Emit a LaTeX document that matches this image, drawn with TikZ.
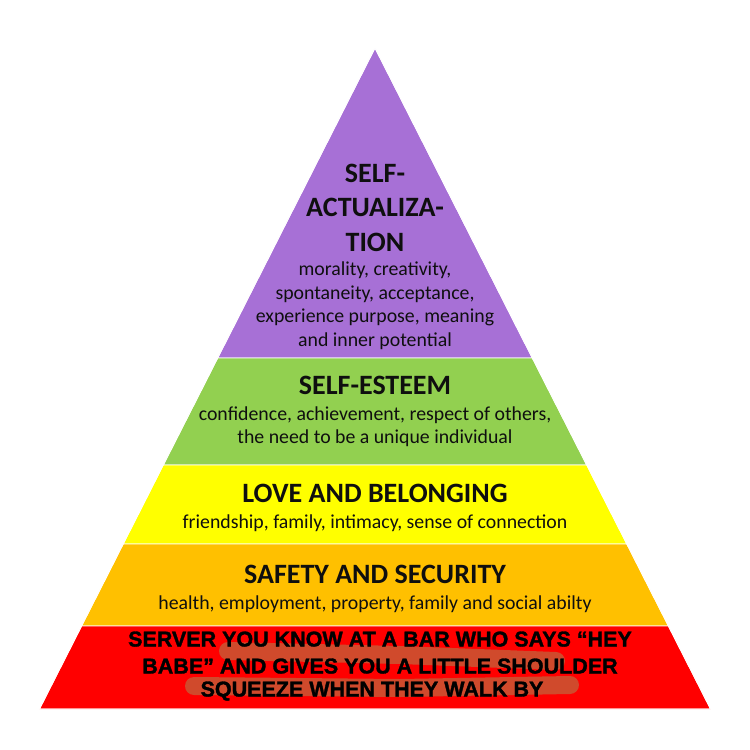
\documentclass[tikz,border=0pt]{standalone}
\usepackage{fontspec}
\setmainfont{Carlito}
\newfontfamily\redfont{Liberation Sans}[BoldFeatures={FakeBold=1.5}]
\definecolor{cpurple}{RGB}{167,112,214}
\definecolor{cgreen}{RGB}{146,208,80}
\definecolor{cyellow}{RGB}{255,255,0}
\definecolor{corange}{RGB}{255,192,0}
\definecolor{cred}{RGB}{255,0,0}
\definecolor{cscrib}{RGB}{208,74,44}
\definecolor{ctext}{RGB}{15,15,15}
\tikzset{
  band/.style={draw=white, line width=0.8pt},
  head/.style={anchor=base, inner sep=0pt, text=ctext, font=\fontsize{28}{28}\selectfont\bfseries},
  desc/.style={anchor=base, inner sep=0pt, text=ctext, font=\fontsize{19.8}{19.8}\selectfont},
  redtxt/.style={anchor=base, inner sep=0pt, text=black, font=\redfont\fontsize{21.5}{21.5}\selectfont\bfseries},
  scrib/.style={draw=cscrib, line cap=round, line join=round}
}
\begin{document}
\begin{tikzpicture}[x=1pt, y=-1pt]
\useasboundingbox (0,0) rectangle (750,750);
\fill[white] (0,0) rectangle (750,750);
% bands
\fill[band, fill=cpurple] (375,48) -- (532.3,358) -- (217.7,358) -- cycle;
\fill[band, fill=cgreen] (217.7,358) -- (532.3,358) -- (586.7,465) -- (163.3,465) -- cycle;
\fill[band, fill=cyellow] (163.3,465) -- (586.7,465) -- (626.8,544) -- (123.2,544) -- cycle;
\fill[band, fill=corange] (123.2,544) -- (626.8,544) -- (668.4,626) -- (81.6,626) -- cycle;
\fill[band, fill=cred] (81.6,626) -- (668.4,626) -- (710.5,709) -- (39.5,709) -- cycle;
\draw[band] (375,48) -- (532.3,358) -- (586.7,465) -- (626.8,544) -- (668.4,626) -- (710.5,709) -- (39.5,709) -- (81.6,626) -- (123.2,544) -- (163.3,465) -- (217.7,358) -- cycle;
% scribbles
\coordinate (sa1) at (228,651);
\coordinate (sa2) at (400,655);
\coordinate (sa3) at (556,661);
\coordinate (sb1) at (194,686);
\coordinate (sb2) at (400,688);
\coordinate (sb3) at (570,685);
\draw[scrib, line width=18pt] (sa1) -- (sa2) -- (sa3);
\draw[scrib, line width=18pt] (sb1) -- (sb2) -- (sb3);
% self-actualization
\node[head] (sa) at (375,182.5) {SELF-};
\node[head] (sb) at (375,216.5) {ACTUALIZA-};
\node[head] (sc) at (375,251) {TION};
\node[desc] (da) at (375,275) {morality, creativity,};
\node[desc] (db) at (375,299) {spontaneity, acceptance,};
\node[desc] (dc) at (375,322.5) {experience purpose, meaning};
\node[desc] (dd) at (375,346) {and inner potential};
% self-esteem
\node[head] (ea) at (375,394) {SELF-ESTEEM};
\node[desc] (eb) at (375,420) {confidence, achievement, respect of others,};
\node[desc] (ec) at (375,443.5) {the need to be a unique individual};
% love
\node[head] (la) at (375,502) {LOVE AND BELONGING};
\node[desc] (lb) at (375,528) {friendship, family, intimacy, sense of connection};
% safety
\node[head] (fa) at (375,583) {SAFETY AND SECURITY};
\node[desc] (fb) at (375,609) {health, employment, property, family and social abilty};
% red
\node[redtxt] (ra) at (380,646.5) {SERVER YOU KNOW AT A BAR WHO SAYS “HEY};
\node[redtxt] (rb) at (380,673.5) {BABE” AND GIVES YOU A LITTLE SHOULDER};
\node[redtxt] (rc) at (372,696.5) {SQUEEZE WHEN THEY WALK BY};
\end{tikzpicture}
\end{document}
